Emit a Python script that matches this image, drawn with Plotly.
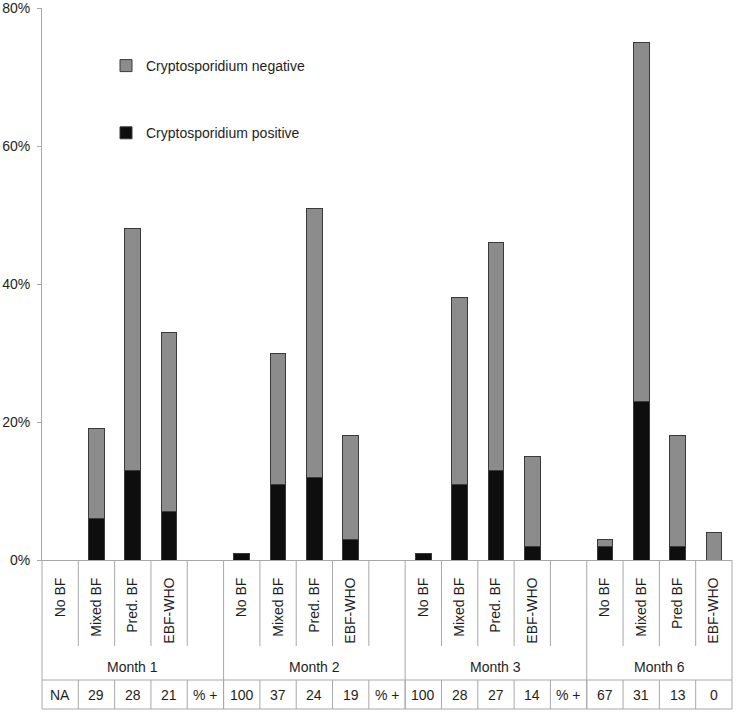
import plotly.graph_objects as go

# ---------------- data ----------------
categories = ["No BF", "Mixed BF", "Pred. BF", "EBF-WHO", "",
              "No BF", "Mixed BF", "Pred. BF", "EBF-WHO", "",
              "No BF", "Mixed BF", "Pred. BF", "EBF-WHO", "",
              "No BF", "Mixed BF", "Pred BF", "EBF-WHO"]
months = ["Month 1", "Month 2", "Month 3", "Month 6"]
month_start = [0, 5, 10, 15]
positive_pct = [None, 6, 13, 7, None,
                1, 11, 12, 3, None,
                1, 11, 13, 2, None,
                2, 23, 2, 0]
negative_pct = [None, 13, 35, 26, None,
                0, 19, 39, 15, None,
                0, 27, 33, 13, None,
                1, 52, 16, 4]
pct_positive_row = ["NA", "29", "28", "21", "% +",
                    "100", "37", "24", "19", "% +",
                    "100", "28", "27", "14", "% +",
                    "67", "31", "13", "0"]
y_ticks = [0, 20, 40, 60, 80]
y_tick_labels = ["0%", "20%", "40%", "60%", "80%"]

# ---------------- layout helpers ----------------
W, H = 737, 713
L, R, T, B = 42, 5, 8, 153
plot_h = H - T - B
n = len(categories)
xs = list(range(n))
FONT = "Liberation Sans, Arial, Helvetica, sans-serif"
TXT = "#1e1e1e"
GRID = "#a8a8a8"


def py(p):
    """pixel y (from top of page) -> paper y"""
    return (H - B - p) / plot_h


def bx(k):
    """slot boundary k -> paper x"""
    return k / n


fig = go.Figure()
fig.add_bar(x=xs, y=positive_pct, name="Cryptosporidium positive",
            legendgroup="pos", legendrank=2,
            marker=dict(color="#0e0e0e", line=dict(color="#3a3a3a", width=1)))
fig.add_bar(x=xs, y=negative_pct, name="Cryptosporidium negative",
            legendgroup="neg", legendrank=1,
            marker=dict(color="#8c8c8c", line=dict(color="#3a3a3a", width=1)))

shapes = []
line_style = dict(color=GRID, width=1)
month_bounds = month_start + [n]
# category separators
for k in range(1, n):
    if k in month_bounds:
        continue
    shapes.append(dict(type="line", xref="paper", yref="paper",
                       x0=bx(k), x1=bx(k), y0=0, y1=py(646), line=line_style))
# month separators (full height of the label area + table)
for k in month_bounds:
    shapes.append(dict(type="line", xref="paper", yref="paper",
                       x0=bx(k), x1=bx(k), y0=0, y1=py(709), line=line_style))
# table row
for yy in (680, 709):
    shapes.append(dict(type="line", xref="paper", yref="paper",
                       x0=0, x1=1, y0=py(yy), y1=py(yy), line=line_style))
for k in range(1, n):
    shapes.append(dict(type="line", xref="paper", yref="paper",
                       x0=bx(k), x1=bx(k), y0=py(680), y1=py(709), line=line_style))

annotations = []
for i, m in enumerate(months):
    s = month_bounds[i]
    e = month_bounds[i + 1]
    annotations.append(dict(xref="paper", yref="paper", x=(s + e) / 2 / n, y=py(667),
                            text=m, showarrow=False, xanchor="center", yanchor="middle",
                            font=dict(family=FONT, size=14, color=TXT)))
for i, t in enumerate(pct_positive_row):
    annotations.append(dict(xref="paper", yref="paper", x=(i + 0.5) / n, y=py(695),
                            text=t, showarrow=False, xanchor="center", yanchor="middle",
                            font=dict(family=FONT, size=14, color=TXT)))

fig.update_layout(
    width=W, height=H,
    margin=dict(l=L, r=R, t=T, b=B, pad=0, autoexpand=False),
    paper_bgcolor="white", plot_bgcolor="white",
    barmode="stack", bargap=0.57,
    font=dict(family=FONT, size=14, color=TXT),
    showlegend=True,
    legend=dict(x=(106 - L) / (W - L - R), y=py(50), xanchor="left", yanchor="top",
                traceorder="grouped", tracegroupgap=46,
                bgcolor="rgba(0,0,0,0)", font=dict(family=FONT, size=14, color=TXT)),
    xaxis=dict(range=[-0.5, n - 0.5], tickmode="array", tickvals=xs, ticktext=categories,
               tickangle=-90, ticks="", showline=True, linecolor=GRID, linewidth=1,
               showgrid=False, zeroline=False, ticklabelstandoff=11, automargin=False,
               tickfont=dict(family=FONT, size=14, color=TXT)),
    yaxis=dict(range=[0, 80.02], tickmode="array", tickvals=y_ticks, ticktext=y_tick_labels,
               ticks="outside", ticklen=4, tickcolor=GRID, showline=True, linecolor=GRID,
               linewidth=1, showgrid=False, zeroline=False, automargin=False,
               ticklabelstandoff=4,
               tickfont=dict(family=FONT, size=14, color=TXT)),
    shapes=shapes, annotations=annotations,
)

fig.write_html("out.html",
               config={"displayModeBar": False},
               post_script="document.body.style.margin='0px';document.body.style.overflow='hidden';")
